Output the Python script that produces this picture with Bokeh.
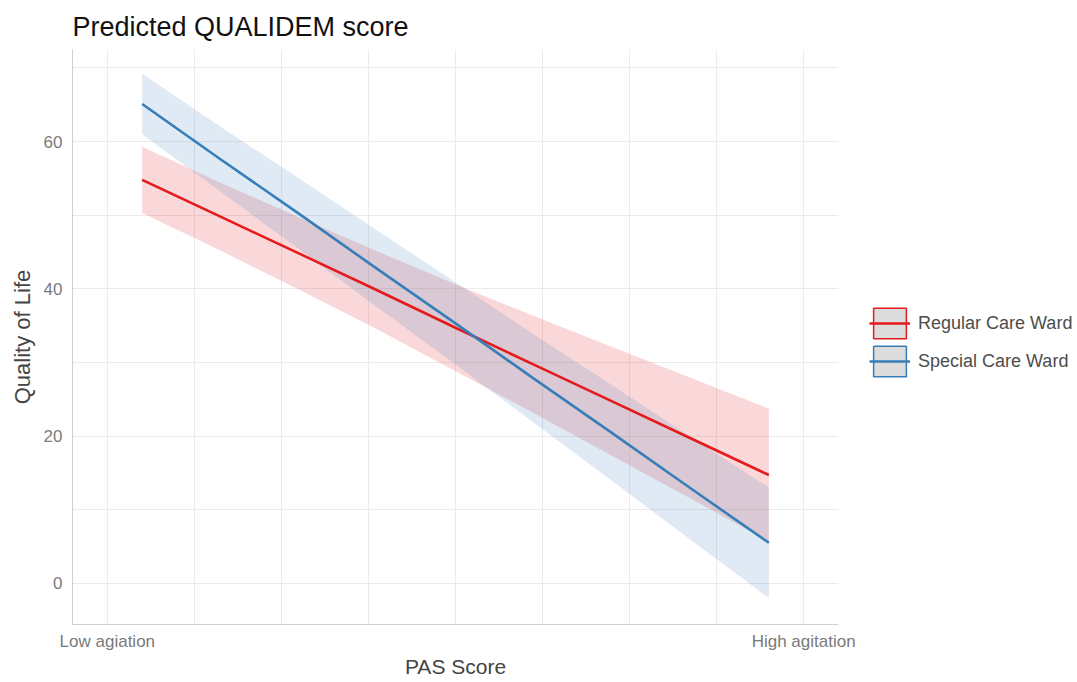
from bokeh.plotting import figure
from bokeh.models import (ColumnDataSource, Range1d, FixedTicker, Legend, LegendItem)
from bokeh.embed import file_html
from bokeh.resources import INLINE

# ---- data ----
pas_x = [0.4, 1.3, 2.2, 3.1, 4.0, 4.9, 5.8, 6.7, 7.6]

regular_pred = [54.8, 49.8, 44.8, 39.8, 34.7, 29.7, 24.7, 19.7, 14.7]
regular_low = [50.3, 45.2, 39.9, 34.5, 28.8, 23.1, 17.3, 11.5, 5.7]
regular_high = [59.3, 54.4, 49.7, 45.1, 40.6, 36.3, 32.1, 27.9, 23.7]

special_pred = [65.1, 57.6, 50.2, 42.7, 35.3, 27.8, 20.4, 12.9, 5.5]
special_low = [61.0, 53.2, 45.4, 37.5, 29.7, 21.8, 13.9, 5.9, -2.0]
special_high = [69.2, 62.0, 55.0, 47.9, 40.9, 33.8, 26.9, 19.9, 13.0]

series_names = ["Regular Care Ward", "Special Care Ward"]
x_tick_values = [0, 8]
x_tick_labels = ["Low agiation", "High agitation"]
y_tick_values = [0, 20, 40, 60]

RED = "#E41A1C"
BLUE = "#377EB8"
FONT = "Liberation Sans"
NAN = float("nan")

p = figure(frame_width=766, frame_height=575, output_backend="svg", toolbar_location=None,
           x_range=Range1d(-0.4, 8.4), y_range=Range1d(-5.6, 72.5),
           min_border_left=72, min_border_right=231, min_border_top=49, min_border_bottom=52)

p.title.text = "Predicted QUALIDEM score"
p.title.text_font = FONT
p.title.text_font_size = "27px"
p.title.text_font_style = "normal"
p.title.text_color = "#111111"
p.title.align = "left"
p.title.standoff = 16

p.outline_line_color = None
p.background_fill_color = "white"

# grids
p.xgrid.ticker = FixedTicker(ticks=[0, 1, 2, 3, 4, 5, 6, 7, 8])
p.ygrid.ticker = FixedTicker(ticks=[0, 10, 20, 30, 40, 50, 60, 70])
for g in (p.xgrid, p.ygrid):
    g.grid_line_color = "#ebebeb"
    g.grid_line_width = 1

# axes
p.xaxis.ticker = FixedTicker(ticks=x_tick_values)
p.xaxis.major_label_overrides = {v: l for v, l in zip(x_tick_values, x_tick_labels)}
p.yaxis.ticker = FixedTicker(ticks=y_tick_values)
p.xaxis.axis_label = "PAS Score"
p.yaxis.axis_label = "Quality of Life"
for ax in (p.xaxis, p.yaxis):
    ax.axis_line_color = "#d0d0d0"
    ax.axis_line_width = 1
    ax.major_tick_line_color = None
    ax.minor_tick_line_color = None
    ax.major_tick_out = 0
    ax.major_tick_in = 0
    ax.minor_tick_out = 0
    ax.minor_tick_in = 0
    ax.major_label_text_font = FONT
    ax.major_label_text_font_size = "17px"
    ax.major_label_text_color = "#7a7a7a"
    ax.axis_label_text_font = FONT
    ax.axis_label_text_font_size = "21px"
    ax.axis_label_text_font_style = "normal"
    ax.axis_label_text_color = "#444444"
p.yaxis.axis_label_text_font_size = "22px"
p.xaxis.major_label_standoff = 7
p.xaxis.axis_label_standoff = 1
p.yaxis.major_label_standoff = 10
p.yaxis.axis_label_standoff = 6

src_r = ColumnDataSource(dict(x=pas_x, y=regular_pred, lo=regular_low, hi=regular_high))
src_s = ColumnDataSource(dict(x=pas_x, y=special_pred, lo=special_low, hi=special_high))

p.varea(x="x", y1="lo", y2="hi", source=src_r, fill_color=RED, fill_alpha=0.17)
p.varea(x="x", y1="lo", y2="hi", source=src_s, fill_color=BLUE, fill_alpha=0.16)
line_r = p.line(x="x", y="y", source=src_r, line_color=RED, line_width=2.6)
line_s = p.line(x="x", y="y", source=src_s, line_color=BLUE, line_width=2.6)

# legend key boxes (renderers with no drawable data, used only for legend keys)
key_src = ColumnDataSource(dict(l=[NAN], r=[NAN], t=[NAN], b=[NAN]))
box_r = p.quad(left="l", right="r", top="t", bottom="b", source=key_src,
               fill_color="#dcdcdc", line_color=RED, line_width=1.5)
box_s = p.quad(left="l", right="r", top="t", bottom="b", source=key_src,
               fill_color="#dcdcdc", line_color=BLUE, line_width=1.5)

legend = Legend(items=[LegendItem(label=series_names[0], renderers=[box_r, line_r]),
                       LegendItem(label=series_names[1], renderers=[box_s, line_s])],
                location=(31, 244), orientation="vertical",
                glyph_width=41, glyph_height=38, spacing=0, padding=0, margin=0,
                label_standoff=8, label_text_font=FONT, label_text_font_size="18px",
                label_text_color="#4d4d4d", border_line_alpha=0, background_fill_alpha=0)
p.add_layout(legend, "right")

open("out.html", "w").write(file_html(p, INLINE))
